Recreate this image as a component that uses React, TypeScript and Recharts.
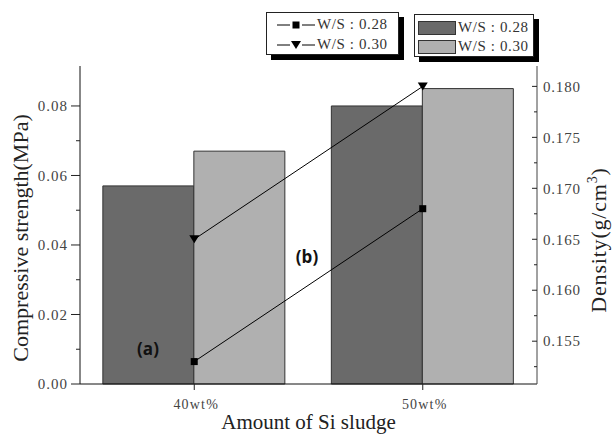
import React from 'react';
import {
  ComposedChart,
  Bar,
  Line,
  XAxis,
  YAxis,
} from 'recharts';

const categories = ['40wt%', '50wt%'];
const strength28 = [0.057, 0.08];
const strength30 = [0.067, 0.085];
const density28 = [0.153, 0.168];
const density30 = [0.165, 0.18];

const leftTicks = [0, 0.01, 0.02, 0.03, 0.04, 0.05, 0.06, 0.07, 0.08];
const rightTicks = [0.1525, 0.155, 0.1575, 0.16, 0.1625, 0.165, 0.1675, 0.17, 0.1725, 0.175, 0.1775, 0.18];

const data = categories.map((cat, i) => ({
  cat,
  s28: strength28[i],
  s30: strength30[i],
  d28: density28[i],
  d30: density30[i],
}));

const serif = '"Liberation Serif", "Times New Roman", serif';

const LeftTick = (props: any) => {
  const { x, y, payload } = props;
  const v = payload.value;
  const major = Math.abs(v / 0.02 - Math.round(v / 0.02)) < 1e-6;
  return (
    <g>
      <line x1={x - (major ? 9 : 4)} x2={x} y1={y} y2={y} stroke="#222" />
      {major && (
        <text x={x - 12} y={y} dy="0.35em" textAnchor="end" fontSize={15} fill="#444" fontFamily={serif} letterSpacing={1}>
          {v.toFixed(2)}
        </text>
      )}
    </g>
  );
};

const RightTick = (props: any) => {
  const { x, y, payload } = props;
  const v = payload.value;
  const major = Math.abs(v / 0.005 - Math.round(v / 0.005)) < 1e-6;
  return (
    <g>
      <line x1={x - (major ? 5 : 3)} x2={x} y1={y} y2={y} stroke="#222" />
      {major && (
        <text x={x + 6} y={y} dy="0.35em" textAnchor="start" fontSize={15} fill="#444" fontFamily={serif} letterSpacing={0.8}>
          {v.toFixed(3)}
        </text>
      )}
    </g>
  );
};

const CatTick = (props: any) => {
  const { x, y, payload } = props;
  return (
    <g>
      <line x1={x} x2={x} y1={y} y2={y + 6} stroke="#222" />
      <text x={x + 2} y={y + 20} dy="0.35em" textAnchor="middle" fontSize={14} fill="#444" fontFamily={serif} letterSpacing={1.2}>
        {payload.value}
      </text>
    </g>
  );
};

const SquareDot = (props: any) => {
  const { cx, cy } = props;
  return <rect x={cx - 3.5} y={cy - 3.5} width={7} height={7} fill="#000" />;
};

const TriangleDot = (props: any) => {
  const { cx, cy } = props;
  return <path d={`M${cx - 5},${cy - 4} L${cx + 5},${cy - 4} L${cx},${cy + 4} Z`} fill="#000" />;
};

const LeftLabel = (props: any) => {
  const { viewBox } = props;
  const cx = viewBox.x + 28;
  const cy = viewBox.y + viewBox.height / 2 + 13;
  return (
    <text x={cx} y={cy} transform={`rotate(-90 ${cx} ${cy})`} textAnchor="middle" fontSize={22} fill="#222" fontFamily={serif}>
      Compressive strength(MPa)
    </text>
  );
};

const RightLabel = (props: any) => {
  const { viewBox } = props;
  const cx = viewBox.x + 69;
  const cy = viewBox.y + viewBox.height / 2 + 15;
  return (
    <text x={cx} y={cy} transform={`rotate(-90 ${cx} ${cy})`} textAnchor="middle" fontSize={22} fill="#222" fontFamily={serif} letterSpacing={0.8}>
      Density(g/cm<tspan dy="-9" fontSize={14}>3</tspan><tspan dy="9">)</tspan>
    </text>
  );
};

const BottomLabel = (props: any) => {
  const { viewBox } = props;
  return (
    <text x={viewBox.x + viewBox.width / 2} y={viewBox.y + viewBox.height - 5} textAnchor="middle" fontSize={21} fill="#222" fontFamily={serif}>
      Amount of Si sludge
    </text>
  );
};

const legendText: React.CSSProperties = {
  fontFamily: serif,
  fontSize: 15,
  color: '#333',
  letterSpacing: 0.6,
  whiteSpace: 'nowrap',
};

export default function App() {
  return (
    <div style={{ position: 'absolute', left: 0, top: 0, width: 612, height: 434, background: '#fff' }}>
      <ComposedChart
        width={612}
        height={434}
        data={data}
        margin={{ top: 66, right: 0, bottom: 0, left: 0 }}
        barCategoryGap="10%"
        barGap={0}
      >
        <XAxis xAxisId="minor" type="number" domain={[0, 2]} ticks={[1]} height={0} axisLine={false} tick={false} tickLine={{ stroke: '#222' }} tickSize={4} />
        <XAxis
          xAxisId="cat"
          dataKey="cat"
          height={50}
          axisLine={{ stroke: '#111' }}
          tickLine={false}
          tickSize={0}
          tickMargin={0}
          tick={<CatTick />}
          label={<BottomLabel />}
        />
        <XAxis xAxisId="top" orientation="top" type="number" domain={[0, 1]} height={0} tick={false} tickLine={false} axisLine={{ stroke: '#888' }} />
        <YAxis
          yAxisId="left"
          width={80}
          domain={[0, 0.0915]}
          ticks={leftTicks}
          axisLine={{ stroke: '#111' }}
          tickLine={false}
          tickSize={0}
          tickMargin={0}
          tick={<LeftTick />}
          label={<LeftLabel />}
        />
        <YAxis
          yAxisId="right"
          orientation="right"
          width={75}
          domain={[0.1508, 0.182]}
          ticks={rightTicks}
          axisLine={{ stroke: '#444' }}
          tickLine={false}
          tickSize={0}
          tickMargin={0}
          tick={<RightTick />}
          label={<RightLabel />}
        />
        <Bar xAxisId="cat" yAxisId="left" dataKey="s28" fill="#6a6a6a" stroke="#333" strokeWidth={1} isAnimationActive={false} />
        <Bar xAxisId="cat" yAxisId="left" dataKey="s30" fill="#b0b0b0" stroke="#333" strokeWidth={1} isAnimationActive={false} />
        <Line xAxisId="cat" yAxisId="right" dataKey="d28" stroke="#000" strokeWidth={1} dot={<SquareDot />} activeDot={false} isAnimationActive={false} />
        <Line xAxisId="cat" yAxisId="right" dataKey="d30" stroke="#000" strokeWidth={1} dot={<TriangleDot />} activeDot={false} isAnimationActive={false} />
      </ComposedChart>

      <div style={{ position: 'absolute', left: 148, top: 348, transform: 'translate(-50%, -50%)', fontFamily: '"Open Sans", sans-serif', fontWeight: 700, fontSize: 17, color: '#111' }}>(a)</div>
      <div style={{ position: 'absolute', left: 307, top: 256, transform: 'translate(-50%, -50%)', fontFamily: '"Open Sans", sans-serif', fontWeight: 700, fontSize: 17, color: '#111' }}>(b)</div>

      <div style={{ position: 'absolute', left: 266, top: 12, width: 131, height: 41, border: '1px solid #222', boxShadow: '5px 5px 0 #000', background: '#fff' }}>
        <div style={{ position: 'absolute', left: 8, top: 3, display: 'flex', alignItems: 'center' }}>
          <svg width={42} height={14}>
            <line x1={2} x2={15} y1={7} y2={7} stroke="#000" />
            <line x1={27} x2={40} y1={7} y2={7} stroke="#000" />
            <rect x={17.5} y={3.5} width={7} height={7} fill="#000" />
          </svg>
          <span style={legendText}>W/S : 0.28</span>
        </div>
        <div style={{ position: 'absolute', left: 8, top: 23, display: 'flex', alignItems: 'center' }}>
          <svg width={42} height={14}>
            <line x1={2} x2={15} y1={7} y2={7} stroke="#000" />
            <line x1={27} x2={40} y1={7} y2={7} stroke="#000" />
            <path d="M16,3 L26,3 L21,11 Z" fill="#000" />
          </svg>
          <span style={legendText}>W/S : 0.30</span>
        </div>
      </div>

      <div style={{ position: 'absolute', left: 414, top: 14, width: 118, height: 41, border: '1px solid #222', boxShadow: '5px 5px 0 #000', background: '#fff' }}>
        <div style={{ position: 'absolute', left: 3, top: 4, display: 'flex', alignItems: 'center' }}>
          <div style={{ width: 36, height: 12, background: '#6a6a6a', border: '1px solid #333', marginRight: 2 }} />
          <span style={legendText}>W/S : 0.28</span>
        </div>
        <div style={{ position: 'absolute', left: 3, top: 23, display: 'flex', alignItems: 'center' }}>
          <div style={{ width: 36, height: 12, background: '#b0b0b0', border: '1px solid #333', marginRight: 2 }} />
          <span style={legendText}>W/S : 0.30</span>
        </div>
      </div>
    </div>
  );
}
